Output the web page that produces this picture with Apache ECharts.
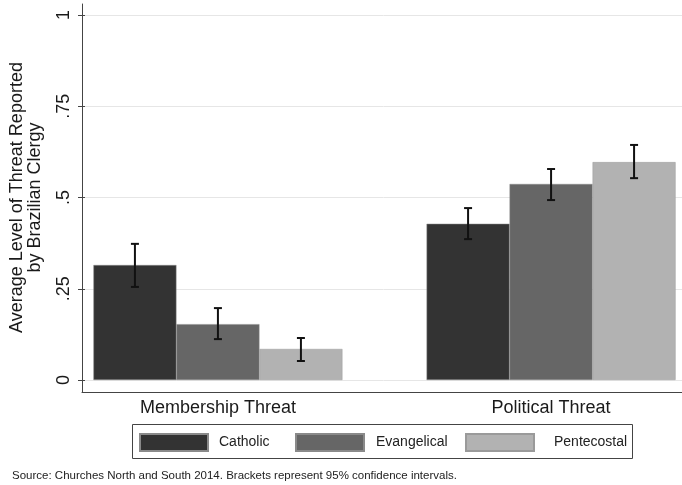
<!DOCTYPE html>
<html>
<head>
<meta charset="utf-8">
<script src="https://cdn.jsdelivr.net/npm/echarts@6/dist/echarts.min.js"></script>
<style>
  html, body { margin: 0; padding: 0; background: #fff; }
  #chart { width: 682px; height: 485px; }
</style>
</head>
<body>
<div id="chart"></div>
<script>
// data
var categories = ["Membership Threat", "Political Threat"];
var groups = ["Catholic", "Evangelical", "Pentecostal"];
var catholic = [0.315, 0.428];
var evangelical = [0.153, 0.537];
var pentecostal = [0.085, 0.597];
var catholicLow = [0.255, 0.386], catholicHigh = [0.373, 0.471];
var evangelicalLow = [0.112, 0.493], evangelicalHigh = [0.197, 0.578];
var pentecostalLow = [0.052, 0.553], pentecostalHigh = [0.115, 0.644];
var yTicks = [0, 0.25, 0.5, 0.75, 1];
var yTickLabels = ["0", ".25", ".5", ".75", "1"];

var colors = ["#333333", "#666666", "#b2b2b2"];
var barW = 83;
var FONT = "Liberation Sans, Arial, sans-serif";

var chart = echarts.init(document.getElementById("chart"));

// category index -> x position on a value axis, so the groups can sit off-centre like Stata's
function pairs(vals) {
  return vals.map(function (v, i) { return [i, v]; });
}

function errSeries(name, lows, highs, idx) {
  return {
    type: "custom",
    name: name + " CI",
    xAxisIndex: 2,
    yAxisIndex: 2,
    z: 10,
    data: lows.map(function (v, i) { return [i, v, highs[i]]; }),
    renderItem: function (params, api) {
      var off = (idx - 1) * barW;
      var lo = api.coord([api.value(0), api.value(1)]);
      var hi = api.coord([api.value(0), api.value(2)]);
      var x = lo[0] + off;
      var cap = 4;
      var st = { stroke: "#111", lineWidth: 2 };
      return {
        type: "group",
        children: [
          { type: "line", shape: { x1: x, y1: lo[1], x2: x, y2: hi[1] }, style: st },
          { type: "line", shape: { x1: x - cap, y1: lo[1], x2: x + cap, y2: lo[1] }, style: st },
          { type: "line", shape: { x1: x - cap, y1: hi[1], x2: x + cap, y2: hi[1] }, style: st }
        ]
      };
    }
  };
}

function legendAt(name, left, gap) {
  return {
    left: left,
    top: 433,
    padding: 0,
    icon: "rect",
    itemWidth: 68,
    itemHeight: 17,
    selectedMode: false,
    textStyle: { fontSize: 14, color: "#222", fontFamily: FONT, padding: [0, 0, 0, gap] },
    data: [name]
  };
}

var option = {
  animation: false,
  backgroundColor: "#fff",
  textStyle: { fontFamily: FONT },
  color: colors,
  title: {
    text: "Source: Churches North and South 2014. Brackets represent 95% confidence intervals.",
    left: 12,
    top: 470,
    padding: 0,
    textStyle: { fontSize: 11.5, fontWeight: "normal", color: "#222", fontFamily: FONT }
  },
  legend: [
    legendAt(groups[0], 139, 6),
    legendAt(groups[1], 295, 7),
    legendAt(groups[2], 465, 15)
  ],
  graphic: [
    {
      type: "rect",
      shape: { x: 132.5, y: 424.5, width: 500, height: 34 },
      style: { fill: "none", stroke: "#444", lineWidth: 1 },
      silent: true
    }
  ],
  grid: [
    // ticks, labels and grid lines
    { left: 82, right: 0, top: 15, bottom: 105 },
    // axis frame
    { left: 82, right: 0, top: 4, bottom: 93 },
    // bars
    { left: 82, right: 0, top: 15, bottom: 105 }
  ],
  xAxis: [
    { gridIndex: 0, type: "value", min: 0, max: 1, show: false },
    {
      gridIndex: 1, type: "value", min: 0, max: 1,
      axisLine: { show: true, lineStyle: { color: "#444", width: 1 } },
      axisTick: { show: false }, axisLabel: { show: false }, splitLine: { show: false }
    },
    {
      gridIndex: 2, type: "value", min: -0.408, max: 1.393,
      axisLine: { show: false }, axisTick: { show: false }, splitLine: { show: false },
      axisLabel: {
        fontSize: 18, color: "#1a1a1a", margin: 19, fontFamily: FONT,
        customValues: [0, 1],
        formatter: function (v) { return categories[Math.round(v)] || ""; }
      }
    }
  ],
  yAxis: [
    {
      gridIndex: 0, type: "value", min: 0, max: 1, interval: 0.25,
      name: "Average Level of Threat Reported\nby Brazilian Clergy",
      nameLocation: "middle",
      nameGap: 41,
      nameTextStyle: { fontSize: 18, color: "#1a1a1a", lineHeight: 18, fontFamily: FONT },
      axisLine: { show: false },
      axisTick: { show: true, length: 7, lineStyle: { color: "#444" } },
      axisLabel: {
        rotate: 90, fontSize: 18, color: "#1a1a1a", margin: 12, fontFamily: FONT,
        formatter: function (v) {
          var i = yTicks.indexOf(v);
          return i >= 0 ? yTickLabels[i] : "";
        }
      },
      splitLine: { show: true, lineStyle: { color: "#e6e6e6", width: 1 } }
    },
    {
      gridIndex: 1, type: "value", min: 0, max: 1,
      axisLine: { show: true, lineStyle: { color: "#444", width: 1 } },
      axisTick: { show: false }, axisLabel: { show: false }, splitLine: { show: false }
    },
    { gridIndex: 2, type: "value", min: 0, max: 1, show: false }
  ],
  series: [
    { name: "Catholic", type: "bar", xAxisIndex: 2, yAxisIndex: 2, barWidth: barW, barGap: "0%", data: pairs(catholic),
      itemStyle: { color: colors[0], borderColor: "#8a8a8a", borderWidth: 0.5 } },
    { name: "Evangelical", type: "bar", xAxisIndex: 2, yAxisIndex: 2, barWidth: barW, barGap: "0%", data: pairs(evangelical),
      itemStyle: { color: colors[1], borderColor: "#8a8a8a", borderWidth: 0.5 } },
    { name: "Pentecostal", type: "bar", xAxisIndex: 2, yAxisIndex: 2, barWidth: barW, barGap: "0%", data: pairs(pentecostal),
      itemStyle: { color: colors[2], borderColor: "#9a9a9a", borderWidth: 0.5 } },
    errSeries("Catholic", catholicLow, catholicHigh, 0),
    errSeries("Evangelical", evangelicalLow, evangelicalHigh, 1),
    errSeries("Pentecostal", pentecostalLow, pentecostalHigh, 2)
  ]
};

chart.setOption(option);
window.addEventListener("resize", function () {
  chart.resize();
});
</script>
</body>
</html>
